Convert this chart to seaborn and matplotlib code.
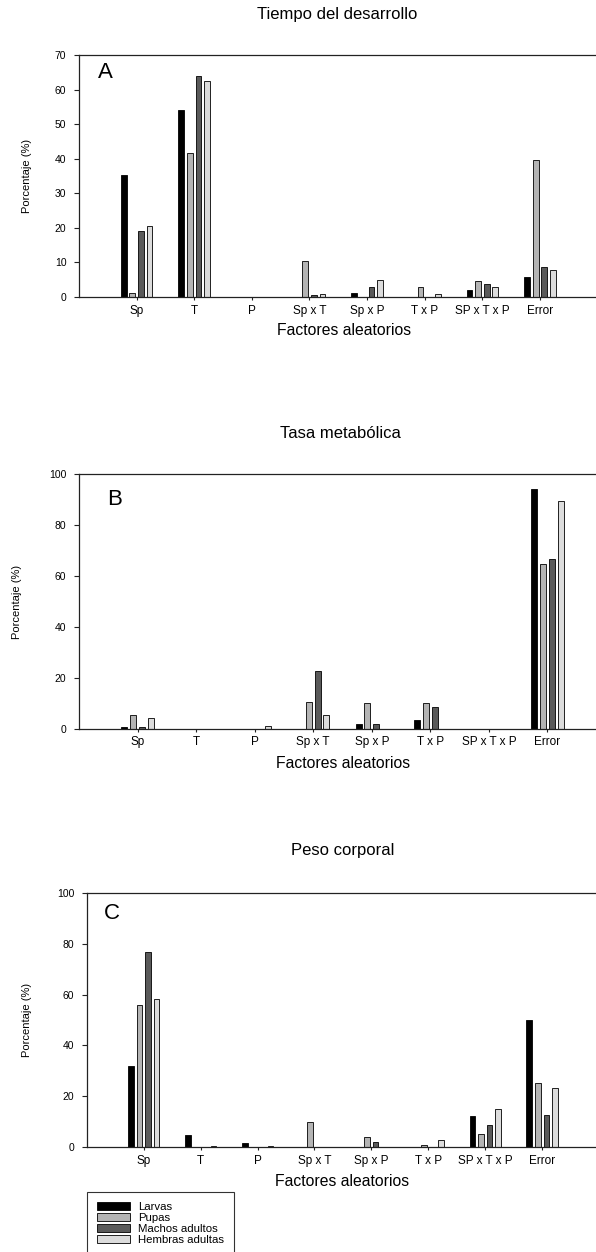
import numpy as np
import pandas as pd
import matplotlib
matplotlib.use("Agg")
import matplotlib.pyplot as plt
import seaborn as sns

# datos (porcentaje de varianza por factor aleatorio)
factores = ['Sp', 'T', 'P', 'Sp x T', 'Sp x P', 'T x P', 'SP x T x P', 'Error']
estadios = ['Larvas', 'Pupas', 'Machos adultos', 'Hembras adultas']
colores = ['#000000', '#b4b4b4', '#5a5a5a', '#dcdcdc']

titulos = ['Tiempo del desarrollo', 'Tasa metabólica', 'Peso corporal']
letras = ['A', 'B', 'C']
ymax = [70, 100, 100]
ypaso = [10, 20, 20]

# A: tiempo del desarrollo
a_larvas = [35.3, 54.2, 0, 0, 1.2, 0, 2.0, 5.8]
a_pupas = [1.1, 41.6, 0, 10.3, 0, 2.8, 4.7, 39.6]
a_machos = [19.1, 64.0, 0, 0.6, 2.9, 0, 3.7, 8.7]
a_hembras = [20.6, 62.5, 0, 0.9, 4.8, 0.8, 2.8, 7.8]

# B: tasa metabolica
b_larvas = [0.8, 0, 0, 0, 1.7, 3.4, 0, 94.4]
b_pupas = [5.4, 0, 0, 10.4, 10.0, 10.0, 0, 64.6]
b_machos = [0.5, 0, 0, 22.8, 2.0, 8.6, 0, 66.7]
b_hembras = [4.1, 0, 1.0, 5.4, 0, 0, 0, 89.6]

# C: peso corporal
c_larvas = [31.7, 4.9, 1.4, 0, 0, 0, 12.2, 50.1]
c_pupas = [55.8, 0, 0, 9.7, 3.9, 0.9, 5.1, 25.2]
c_machos = [76.7, 0, 0, 0, 1.8, 0, 8.8, 12.5]
c_hembras = [58.2, 0.5, 0.5, 0, 0, 2.6, 15.1, 23.3]

paneles = [
    [a_larvas, a_pupas, a_machos, a_hembras],
    [b_larvas, b_pupas, b_machos, b_hembras],
    [c_larvas, c_pupas, c_machos, c_hembras],
]

sns.set_style('ticks')
plt.rcParams['font.family'] = ['Liberation Sans', 'DejaVu Sans']
plt.rcParams['text.color'] = 'black'
plt.rcParams['xtick.color'] = 'black'
plt.rcParams['ytick.color'] = 'black'
plt.rcParams['xtick.labelcolor'] = 'black'
plt.rcParams['ytick.labelcolor'] = 'black'

W, H = 596, 1252
fig = plt.figure(figsize=(W / 100, H / 100), dpi=100)

# posiciones en pixeles: izquierda, derecha, arriba, abajo
cajas = [(79, 597.6, 55.3, 297), (79, 606, 474.3, 728.7), (86.8, 599, 893, 1147)]
pos_titulo = [(337, 19.3), (340, 437.5), (342.5, 855)]
pos_xlabel = [(344, 335), (343, 768), (342.5, 1186)]
pos_ylabel = [27, 17, 27]
pos_letra = [(98, 78.3), (107.3, 505), (103.4, 919)]

axes = []
for i, vals in enumerate(paneles):
    l, r, t, b = cajas[i]
    ax = fig.add_axes([l / W, 1 - b / H, (r - l) / W, (b - t) / H])
    df = pd.DataFrame({
        'factor': np.tile(factores, len(estadios)),
        'estadio': np.repeat(estadios, len(factores)),
        'valor': np.concatenate(vals),
    })
    sns.barplot(data=df, x='factor', y='valor', hue='estadio',
                order=factores, hue_order=estadios, palette=colores,
                width=0.6, gap=0.34, edgecolor='black', linewidth=0.6,
                errorbar=None, ax=ax, legend=(i == 2))
    ax.set_xlim(-1, 8)
    ax.set_ylim(0, ymax[i])
    ax.set_yticks(np.arange(0, ymax[i] + 1, ypaso[i]))
    ax.set_xlabel('')
    ax.set_ylabel('')
    for s in ['left', 'bottom', 'top']:
        ax.spines[s].set_visible(True)
        ax.spines[s].set_color('#222222')
        ax.spines[s].set_linewidth(0.9)
    ax.spines['right'].set_visible(False)
    ax.tick_params(axis='y', labelsize=7.5, length=3.6, width=0.8, pad=5.5, color='#222222')
    ax.tick_params(axis='x', labelsize=8.5, length=2, width=0.8, pad=3.5, color='#222222')

    lx, ly = pos_letra[i]
    fig.text(lx / W, 1 - ly / H, letras[i], fontsize=16, ha='left', va='baseline')
    tx, ty = pos_titulo[i]
    fig.text(tx / W, 1 - ty / H, titulos[i], fontsize=12, ha='center', va='baseline')
    xx, xy = pos_xlabel[i]
    fig.text(xx / W, 1 - xy / H, 'Factores aleatorios', fontsize=11.3, ha='center', va='baseline')
    fig.text(pos_ylabel[i] / W, 1 - ((t + b) / 2) / H, 'Porcentaje (%)', fontsize=8,
             rotation=90, ha='center', va='center')
    axes.append(ax)

handles, labels = axes[2].get_legend_handles_labels()
axes[2].legend_.remove()
leg = fig.legend(handles, labels, loc='upper left',
                 bbox_to_anchor=(86.7 / W, 1 - 1191.7 / H),
                 fontsize=8.2, frameon=True, fancybox=False,
                 handlelength=2.9, handleheight=0.7, handletextpad=0.7,
                 labelspacing=0.1, borderpad=0.9, borderaxespad=0)
leg.get_frame().set_edgecolor('black')
leg.get_frame().set_linewidth(0.8)

fig.savefig('out.png', dpi=100)
